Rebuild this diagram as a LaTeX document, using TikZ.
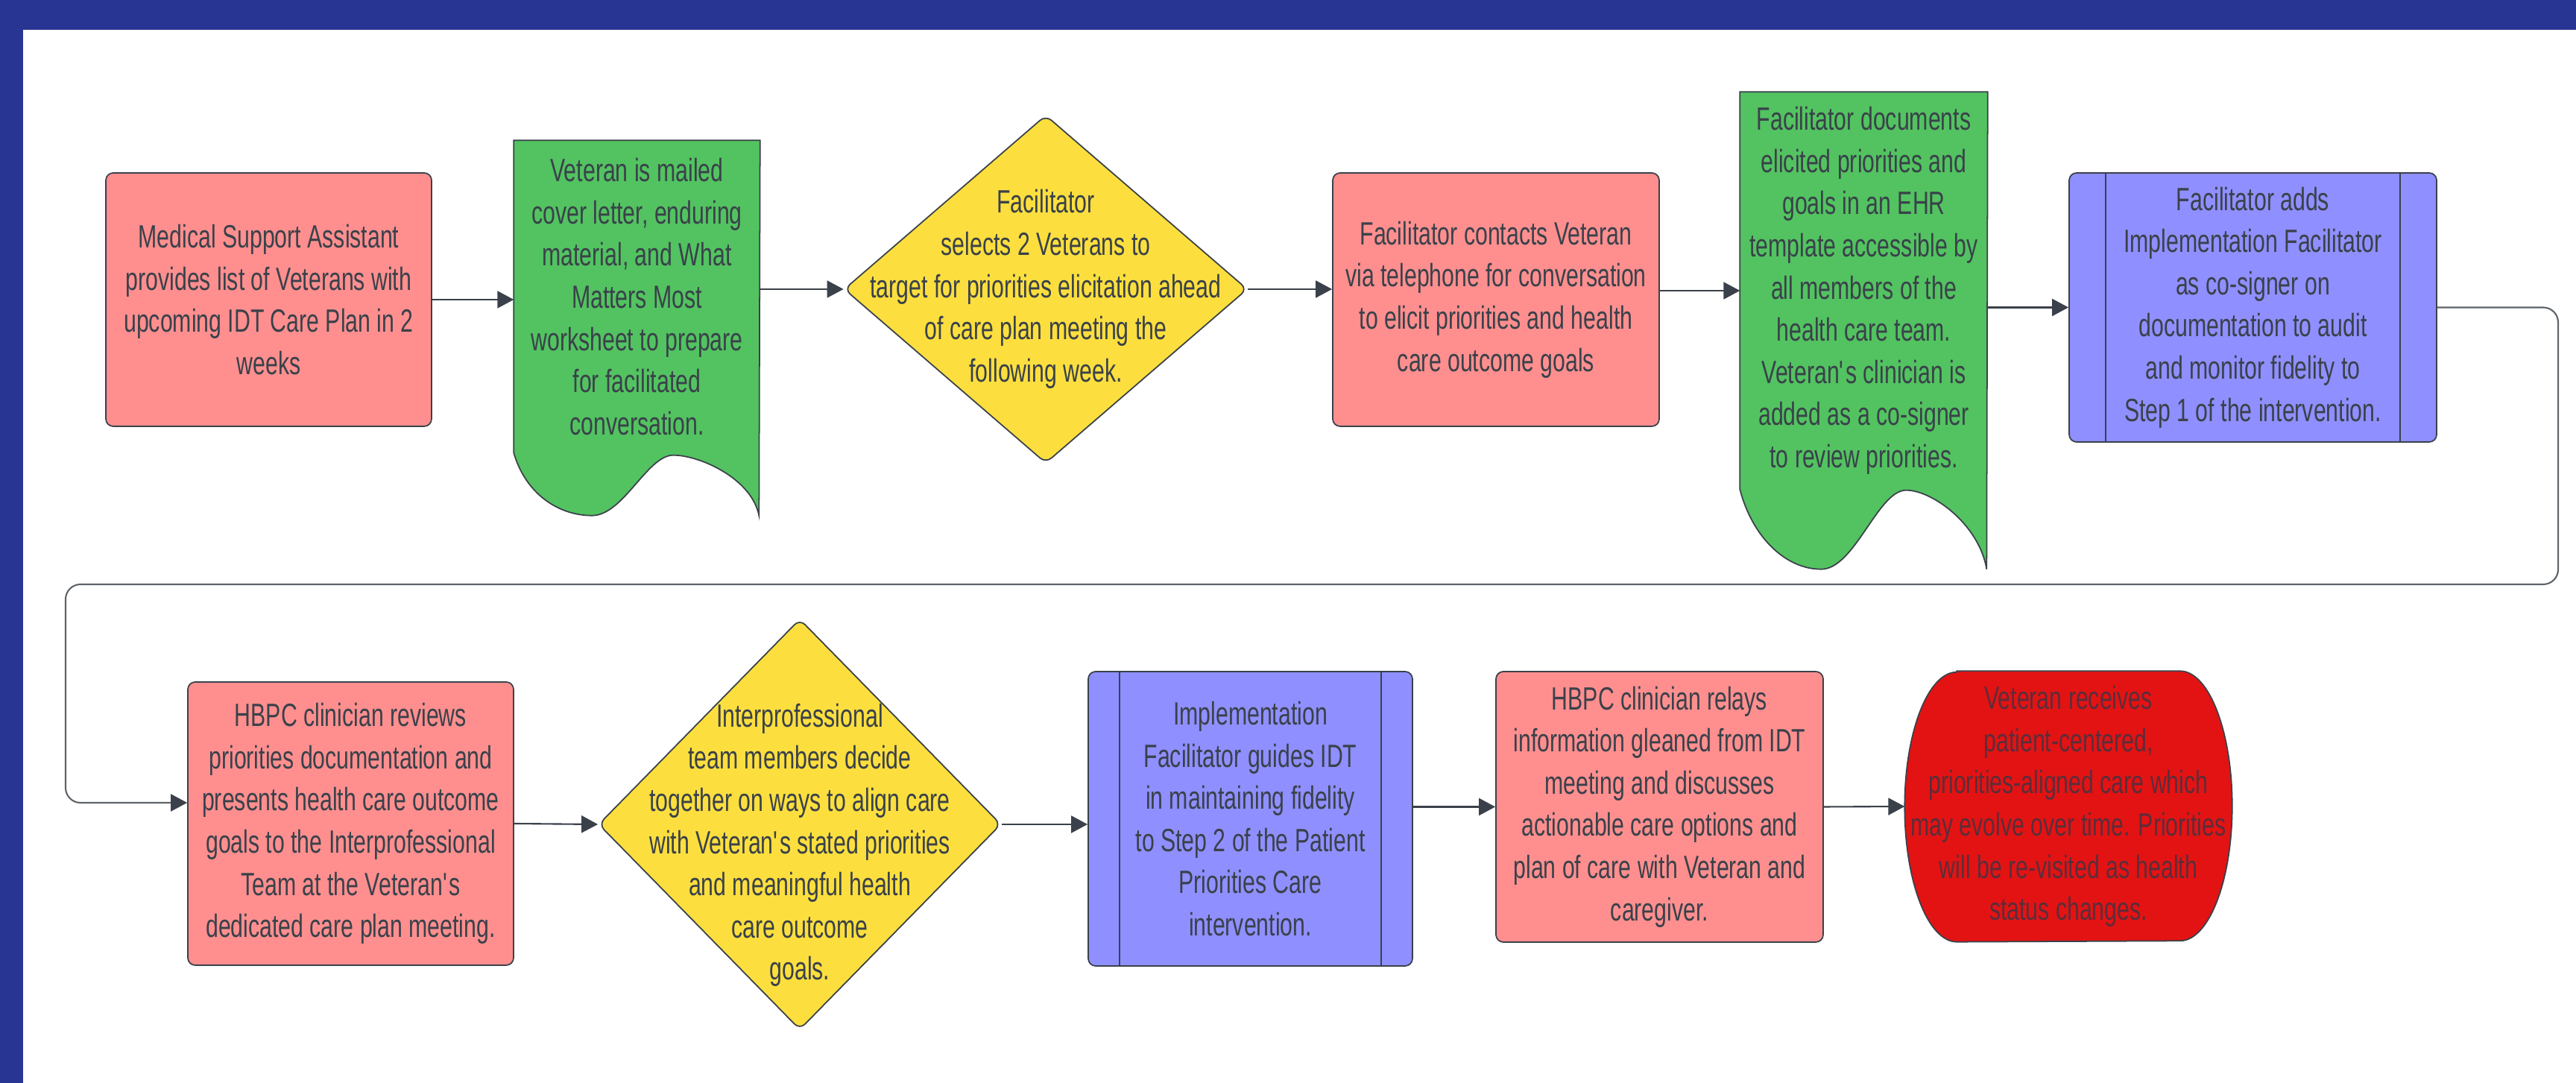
\documentclass[tikz,border=0pt]{standalone}
\usepackage{fontspec}
\setmainfont{Liberation Sans}[FakeStretch=0.70]
\usepackage{tikz}
\usetikzlibrary{arrows.meta,shapes.geometric,backgrounds}

\definecolor{frameblue}{RGB}{40,53,147}
\definecolor{boxpink}{RGB}{255,143,143}
\definecolor{docgreen}{RGB}{82,195,96}
\definecolor{decyellow}{RGB}{252,223,62}
\definecolor{procblue}{RGB}{143,143,255}
\definecolor{endred}{RGB}{227,19,19}
\definecolor{lineC}{RGB}{58,65,74}
\definecolor{loopC}{RGB}{95,100,106}
\definecolor{endtext}{RGB}{92,45,58}

\tikzset{
	txt/.style={align=center, text=lineC, font=\fontsize{12.3}{16.1}\selectfont, inner sep=0pt},
	box/.style={txt, shape=rectangle, draw=lineC, line width=0.5pt, rounded corners=1mm, fill=boxpink},
	proc/.style={box, fill=procblue, path picture={
		\draw[lineC, line width=0.4pt] ([xshift=#1]path picture bounding box.north west) -- ([xshift=#1]path picture bounding box.south west)
			([xshift=-#1]path picture bounding box.north east) -- ([xshift=-#1]path picture bounding box.south east);}},
	dec/.style={shape=diamond, draw=lineC, line width=0.5pt, rounded corners=1mm, fill=decyellow, inner sep=0pt},
	docline/.style={draw=lineC, line width=0.5pt},
	arr/.style={-{Triangle[length=2.2mm,width=2.3mm]}, lineC, line width=0.6pt},
	loopline/.style={-{Triangle[length=2.2mm,width=2.3mm,color=lineC]}, loopC, line width=0.6pt, rounded corners=2mm}
}

\begin{document}
\begin{tikzpicture}
	\useasboundingbox (0,0) rectangle (34.56,14.53);

	% first row
	\node[box, minimum width=4.37cm, minimum height=3.40cm] (msa) at (3.605, 10.51) {Medical Support Assistant\\provides list of Veterans with\\upcoming IDT Care Plan in 2\\weeks};
	\node[txt, minimum width=3.29cm, minimum height=4.18cm] (mail) at (8.545, 10.55) {Veteran is mailed\\cover letter, enduring\\material, and What\\Matters Most\\worksheet to prepare\\for facilitated\\conversation.};
	\node[dec, minimum width=5.41cm, minimum height=4.67cm] (pick) at (14.03, 10.65) {};
	\node[txt] (picktxt) at (pick) {Facilitator\\selects 2 Veterans to\\target for priorities elicitation ahead\\of care plan meeting the\\following week.};
	\node[box, minimum width=4.38cm, minimum height=3.40cm] (call) at (20.07, 10.51) {Facilitator contacts Veteran\\via telephone for conversation\\to elicit priorities and health\\care outcome goals};
	\node[txt, minimum width=3.31cm, minimum height=5.32cm] (note) at (25.005, 10.63) {Facilitator documents\\elicited priorities and\\goals in an EHR\\template accessible by\\all members of the\\health care team.\\Veteran\textquotesingle s clinician is\\added as a co-signer\\to review priorities.};
	\node[proc=4.9mm, minimum width=4.93cm, minimum height=3.61cm] (cosign) at (30.225, 10.405) {Facilitator adds\\Implementation Facilitator\\as co-signer on\\documentation to audit\\and monitor fidelity to\\Step 1 of the intervention.};

	% second row
	\node[box, minimum width=4.37cm, minimum height=3.80cm] (review) at (4.705, 3.48) {HBPC clinician reviews\\priorities documentation and\\presents health care outcome\\goals to the Interprofessional\\Team at the Veteran\textquotesingle s\\dedicated care plan meeting.};
	\node[dec, minimum width=5.40cm, minimum height=5.51cm] (decide) at (10.73, 3.47) {};
	\node[txt] (decidetxt) at ([yshift=-2.8mm]decide.center) {Interprofessional\\team members decide\\together on ways to align care\\with Veteran\textquotesingle s stated priorities\\and meaningful health\\care outcome\\goals.};
	\node[proc=4.2mm, minimum width=4.35cm, minimum height=3.95cm] (guide) at (16.775, 3.545) {Implementation\\Facilitator guides IDT\\in maintaining fidelity\\to Step 2 of the Patient\\Priorities Care\\intervention.};
	\node[box, minimum width=4.39cm, minimum height=3.63cm] (relay) at (22.265, 3.705) {HBPC clinician relays\\information gleaned from IDT\\meeting and discusses\\actionable care options and\\plan of care with Veteran and\\caregiver.};
	\node[txt, text=endtext, minimum width=4.38cm, minimum height=3.62cm] (done) at (27.75, 3.71) {Veteran receives\\patient-centered,\\priorities-aligned care which\\may evolve over time. Priorities\\will be re-visited as health\\status changes.};

	% frame, documents and terminal go behind the text
	\begin{scope}[on background layer]
		\fill[white] (0,0) rectangle (34.56,14.53);
		\fill[frameblue] (0,14.13) rectangle (34.56,14.53);
		\fill[frameblue] (0,0) rectangle (0.31,14.53);
		\draw[docline, fill=docgreen] (mail.south west) .. controls +(0.16,-0.55) and +(-0.45,0) .. ++(1.05,-0.84)
			.. controls +(0.42,0) and +(-0.35,0) .. ++(1.09,0.81)
			.. controls +(0.35,0) and +(-0.1,0.5) .. ++(1.15,-0.81)
			-- (mail.north east) -- (mail.north west) -- cycle;
		\draw[docline, fill=docgreen] (note.south west) .. controls +(0.17,-0.65) and +(-0.47,0) .. ++(1.09,-1.07)
			.. controls +(0.45,0) and +(-0.38,0) .. ++(1.14,1.06)
			.. controls +(0.35,0) and +(-0.1,0.6) .. ++(1.08,-1.06)
			-- (note.north east) -- (note.north west) -- cycle;
		\draw[docline, fill=endred] ([xshift=7mm]done.north west) -- ([xshift=-7mm]done.north east)
			arc[start angle=90, end angle=-90, x radius=7mm, y radius=18.1mm]
			-- ([xshift=7mm]done.south west)
			arc[start angle=270, end angle=90, x radius=7mm, y radius=18.1mm] -- cycle;
	\end{scope}

	\draw[arr] (msa.east) -- (msa.east -| mail.west);
	\draw[arr] (mail.east |- pick.west) -- (pick.west);
	\draw[arr] (pick.east) -- (pick.east -| call.west);
	\draw[arr] (note.west -| call.east) -- (note.west);
	\draw[arr] (cosign.west -| note.east) -- (cosign.west);
	\draw[arr] (review.east) -- (decide.west);
	\draw[arr] (decide.east) -- (decide.east -| guide.west);
	\draw[arr] (relay.west -| guide.east) -- (relay.west);
	\draw[arr] (relay.east) -- (done.west);

	% back from the end of the first row to the start of the second
	\coordinate (loopR) at (34.32, 6.69);
	\coordinate (loopL) at (0.88, 6.69);
	\draw[loopline] (cosign.east) -| (loopR) -- (loopL) |- ([yshift=2.8mm]review.west);
\end{tikzpicture}
\end{document}
